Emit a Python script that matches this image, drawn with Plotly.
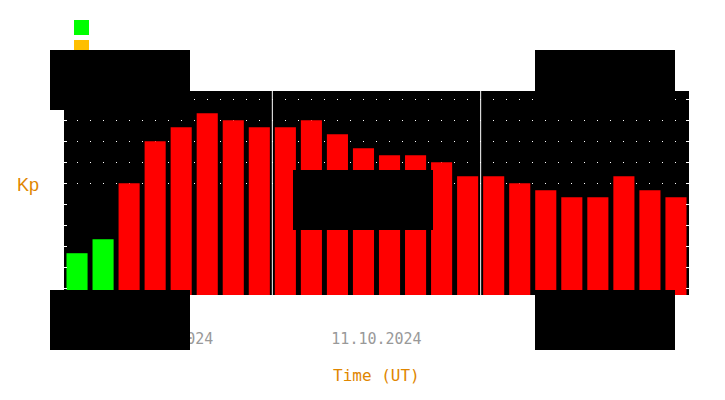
import plotly.graph_objects as go

# ---- data ----
days = ["10.10.2024", "11.10.2024", "12.10.2024"]
kp_values = [1.67, 2.33, 5.0, 7.0, 7.67, 8.33, 8.0, 7.67,
             7.67, 8.0, 7.33, 6.67, 6.33, 6.33, 6.0, 5.33,
             5.33, 5.0, 4.67, 4.33, 4.33, 5.33, 4.67, 4.33]
kp_levels = [0, 1, 2, 3, 4, 5, 6, 7, 8, 9]
storm_levels = [5, 6, 7, 8, 9]

# page body has an 8px margin; figure is sized so that it fills the 725x400 window
OFF = 8
W, H = 725, 400
FW, FH = W - OFF, H - OFF
PL, PR, PT, PB = 64, 689, 91, 295          # plot area in window pixels
ML, MR, MT, MB = PL - OFF, W - PR, PT - OFF, H - PB
PW, PH = PR - PL, PB - PT
YMIN, YMAX = -0.32, 9.395
ORANGE = "#e08600"

def px(x):
    return (x - PL) / PW

def py(y):
    return (PB - y) / PH

n = len(kp_values)
per_day = n // len(days)
xs = list(range(n))
colors = ["#00ff00" if v < 4 else "#ff0000" for v in kp_values]

fig = go.Figure()
fig.add_trace(go.Bar(
    x=xs, y=[v - YMIN for v in kp_values], base=YMIN,
    marker=dict(color=colors, line=dict(width=0)),
    width=0.81, hoverinfo="skip", showlegend=False,
))

shapes = []
# day separators
for d in range(1, len(days)):
    xv = d * per_day - 0.5
    shapes.append(dict(type="line", xref="x", yref="paper", x0=xv, x1=xv, y0=0, y1=1,
                       line=dict(color="white", width=1), layer="above"))
# legend squares
shapes.append(dict(type="rect", xref="paper", yref="paper", x0=px(74), x1=px(89), y0=py(35), y1=py(20),
                   fillcolor="#00ff00", line=dict(width=0), layer="above"))
shapes.append(dict(type="rect", xref="paper", yref="paper", x0=px(74), x1=px(89), y0=py(55), y1=py(40),
                   fillcolor="#ffbf00", line=dict(width=0), layer="above"))
# black masks
for (x0, y0, x1, y1) in [(50, 50, 190, 110), (50, 290, 190, 350), (535, 50, 675, 110),
                         (535, 290, 675, 350), (293, 170, 433, 230)]:
    shapes.append(dict(type="rect", xref="paper", yref="paper", x0=px(x0), x1=px(x1),
                       y0=py(y1), y1=py(y0), fillcolor="black", line=dict(width=0), layer="above"))

fig.update_layout(
    width=FW, height=FH, autosize=False,
    margin=dict(l=ML, r=MR, t=MT, b=MB, pad=0),
    paper_bgcolor="white", plot_bgcolor="black",
    shapes=shapes,
    xaxis=dict(range=[-0.5, n - 0.5], tickmode="array",
               tickvals=[d * per_day + (per_day - 1) / 2 for d in range(len(days))],
               ticktext=days, ticks="", showgrid=False, zeroline=False, showline=False,
               tickfont=dict(family="DejaVu Sans Mono", size=15, color="#999999"),
               ticklabelstandoff=33, fixedrange=True),
    yaxis=dict(range=[YMIN, YMAX], tickmode="array", tickvals=storm_levels,
               showticklabels=False, ticks="inside", ticklen=3, tickcolor="white", tickwidth=1,
               mirror="ticks", showgrid=True, gridcolor="white", gridwidth=1, griddash="1px,12px",
               zeroline=False, showline=False,
               minor=dict(tickmode="array", tickvals=kp_levels, ticks="inside", ticklen=3,
                          tickcolor="white", tickwidth=1, showgrid=False),
               fixedrange=True),
    annotations=[
        dict(text="Kp", xref="paper", yref="paper", x=px(27.5), y=py(185), showarrow=False,
             xanchor="center", yanchor="middle",
             font=dict(family="Liberation Sans", size=18, color=ORANGE)),
        dict(text="Time (UT)", xref="paper", yref="paper", x=px(376.5), y=py(375), showarrow=False,
             xanchor="center", yanchor="middle",
             font=dict(family="DejaVu Sans Mono", size=16, color=ORANGE)),
    ],
)

fig.write_html("out.html")
